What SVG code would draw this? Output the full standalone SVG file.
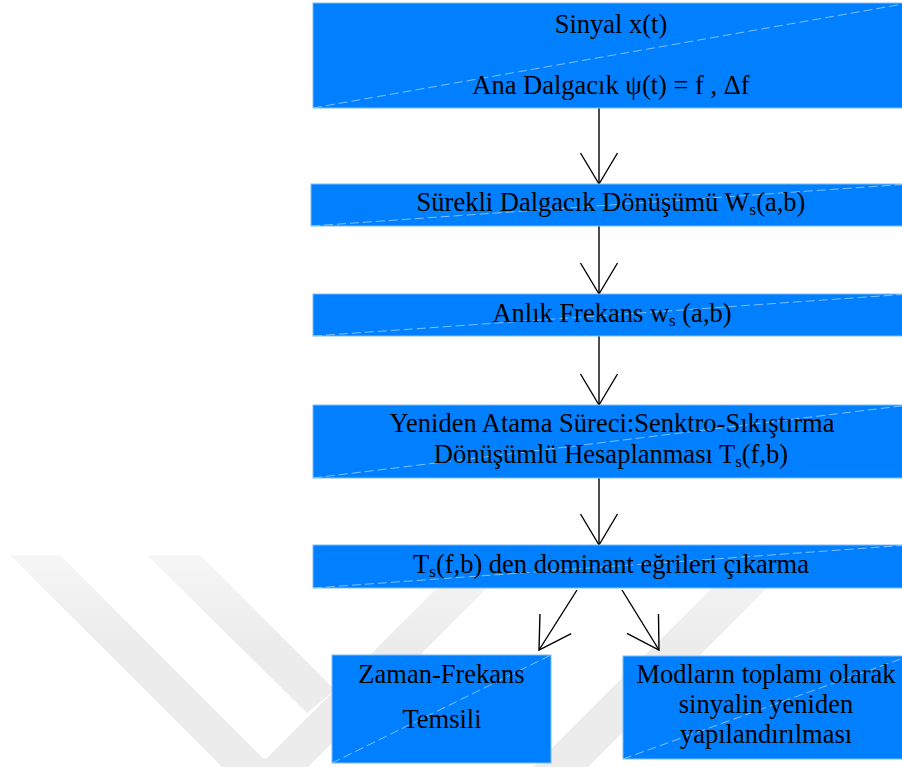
<svg xmlns="http://www.w3.org/2000/svg" width="902" height="767" viewBox="0 0 902 767">
  <defs>
    <style>
      .box { fill: #0080ff; stroke: #7fbcf7; stroke-width: 1; }
      .diag { stroke: #9fd0ff; stroke-width: 0.8; stroke-dasharray: 9 4; fill: none; }
      .lbl { font-family: "Liberation Serif", "Times New Roman", serif; font-size: 26.5px; fill: #000; text-anchor: middle; }
      .sub { font-size: 17px; }
      .conn { stroke: #000; stroke-width: 1.4; fill: none; marker-end: url(#ah); }
      .wm { fill: url(#wmFade); }
    </style>
    <marker id="ah" markerUnits="userSpaceOnUse" markerWidth="40" markerHeight="40" refX="32" refY="20" orient="auto" overflow="visible">
      <path d="M1,1.5 L32,20 L1,38.5" fill="none" stroke="#000" stroke-width="1.4"/>
    </marker>
    <linearGradient id="wmFade" x1="0" y1="555" x2="0" y2="640" gradientUnits="userSpaceOnUse">
      <stop offset="0" stop-color="#f6f6f6"/>
      <stop offset="1" stop-color="#ececec"/>
    </linearGradient>
    <clipPath id="wmClip">
      <rect x="0" y="555" width="902" height="212"/>
    </clipPath>
  </defs>

  <rect width="902" height="767" fill="#fff"/>

  <!-- faint background emblem -->
  <g id="watermark" clip-path="url(#wmClip)">
    <polygon class="wm" points="10,555 60,555 263,758 308,767 222,767 -200,345"/>
    <polygon class="wm" points="147,555 200,555 335,690 307,713"/>
    <polygon class="wm" points="258,767 620,405 670,405 308,767"/>
    <polygon class="wm" points="533,767 900,400 955,400 588,767"/>
  </g>

  <g id="connectors">
    <line class="conn" x1="599" y1="108" x2="599" y2="184"/>
    <line class="conn" x1="599" y1="226" x2="599" y2="294"/>
    <line class="conn" x1="599" y1="336" x2="599" y2="405"/>
    <line class="conn" x1="599" y1="478" x2="599" y2="545"/>
    <line class="conn" x1="577" y1="590" x2="539" y2="650"/>
    <line class="conn" x1="622" y1="590" x2="659" y2="650"/>
  </g>

  <g id="n1">
    <rect class="box" x="313" y="3" width="596" height="105"/>
    <line class="diag" x1="313" y1="108" x2="909" y2="3"/>
    <text class="lbl" x="611" y="33">Sinyal x(t)</text>
    <text class="lbl" x="611" y="94">Ana Dalgacık ψ(t) = f , Δf</text>
  </g>

  <g id="n2">
    <rect class="box" x="311" y="184" width="598" height="42"/>
    <line class="diag" x1="311" y1="226" x2="909" y2="184"/>
    <text class="lbl" x="611" y="211">Sürekli Dalgacık Dönüşümü W<tspan class="sub" dy="4">s</tspan><tspan dy="-4">(a,b)</tspan></text>
  </g>

  <g id="n3">
    <rect class="box" x="313" y="294" width="596" height="42"/>
    <line class="diag" x1="313" y1="336" x2="909" y2="294"/>
    <text class="lbl" x="612" y="322">Anlık Frekans w<tspan class="sub" dy="4">s</tspan><tspan dy="-4"> (a,b)</tspan></text>
  </g>

  <g id="n4">
    <rect class="box" x="313" y="405" width="596" height="73"/>
    <line class="diag" x1="313" y1="478" x2="909" y2="405"/>
    <text class="lbl" x="612" y="432">Yeniden Atama Süreci:Senktro-Sıkıştırma</text>
    <text class="lbl" x="611" y="463">Dönüşümlü Hesaplanması T<tspan class="sub" dy="4">s</tspan><tspan dy="-4">(f,b)</tspan></text>
  </g>

  <g id="n5">
    <rect class="box" x="313" y="545" width="596" height="43"/>
    <line class="diag" x1="313" y1="588" x2="909" y2="545"/>
    <text class="lbl" x="611" y="573">T<tspan class="sub" dy="4">s</tspan><tspan dy="-4">(f,b) den dominant eğrileri çıkarma</tspan></text>
  </g>

  <g id="n6">
    <rect class="box" x="332" y="655" width="219" height="108"/>
    <line class="diag" x1="332" y1="763" x2="551" y2="655"/>
    <text class="lbl" x="441.5" y="683">Zaman-Frekans</text>
    <text class="lbl" x="442" y="728">Temsili</text>
  </g>

  <g id="n7">
    <rect class="box" x="623" y="656" width="286" height="103"/>
    <line class="diag" x1="623" y1="759" x2="909" y2="656"/>
    <text class="lbl" x="766" y="683">Modların toplamı olarak</text>
    <text class="lbl" x="766" y="713">sinyalin yeniden</text>
    <text class="lbl" x="766" y="743">yapılandırılması</text>
  </g>
</svg>
